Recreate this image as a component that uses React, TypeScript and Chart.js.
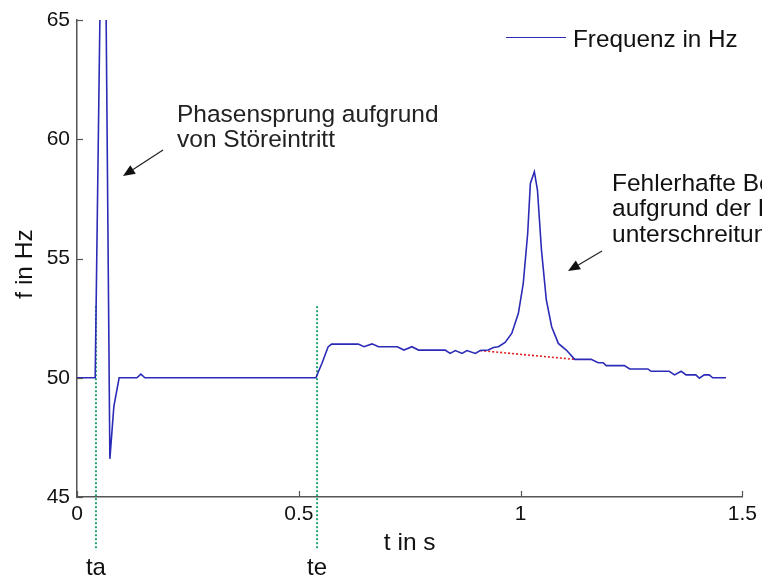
import React, { useEffect, useRef } from "react";
import { Chart, registerables } from "chart.js";

Chart.register(...registerables);

// ---- data ----
const timeS = [
  0, 0.041, 0.0602, 0.0741, 0.0831, 0.095, 0.135, 0.144, 0.153, 0.5385,
  0.552, 0.566, 0.574, 0.634, 0.647, 0.665, 0.68, 0.722, 0.737, 0.755,
  0.77, 0.83, 0.841, 0.853, 0.868, 0.879, 0.898, 0.909, 0.927, 0.939,
  0.95, 0.965, 0.98, 0.995, 1.006, 1.016, 1.022, 1.031, 1.038, 1.047,
  1.058, 1.07, 1.085, 1.103, 1.122, 1.159, 1.175, 1.186, 1.193, 1.234,
  1.246, 1.287, 1.294, 1.335, 1.347, 1.362, 1.373, 1.395, 1.403, 1.414,
  1.425, 1.433, 1.463,
];
const freqHz = [
  50, 50, 77.2, 46.6, 48.8, 50, 50, 50.15, 50, 50,
  50.6, 51.29, 51.41, 51.41, 51.3, 51.42, 51.3, 51.3, 51.16, 51.3,
  51.16, 51.16, 51.02, 51.14, 51.02, 51.14, 51.02, 51.14, 51.16, 51.27,
  51.3, 51.48, 51.86, 52.7, 53.96, 56.06, 58.15, 58.64, 57.87, 55.36,
  53.26, 52.14, 51.44, 51.16, 50.77, 50.77, 50.63, 50.63, 50.51, 50.51,
  50.37, 50.37, 50.27, 50.27, 50.12, 50.27, 50.12, 50.12, 49.98, 50.12,
  50.12, 50.0, 50.0,
];
const fitTimeS = [0.909, 1.122];
const fitFreqHz = [51.14, 50.77];
const markerTimeS = [0.0427, 0.5412];
const markerLabels = ["ta", "te"];
const markerFreqRange = [53.0, 42.8];

const xMin = 0, xMax = 1.5, xStep = 0.5;
const yMin = 45, yMax = 65, yStep = 5;

const seriesLabel = "Frequenz in Hz";
const xTitle = "t in s";
const yTitle = "f in Hz";
const note1 = ["Phasensprung aufgrund", "von Störeintritt"];
const note2 = ["Fehlerhafte Berechnung", "aufgrund der Pegel-", "unterschreitung"];

const FONT = '"Liberation Sans", Arial, Helvetica, sans-serif';
const BLUE = "#2b2bb8";
const AXIS = "#555555";

function arrow(ctx: CanvasRenderingContext2D, x1: number, y1: number, x2: number, y2: number) {
  const ang = Math.atan2(y2 - y1, x2 - x1);
  const hl = 12, hw = 5;
  const bx = x2 - hl * Math.cos(ang), by = y2 - hl * Math.sin(ang);
  ctx.beginPath();
  ctx.moveTo(x1, y1);
  ctx.lineTo(bx, by);
  ctx.strokeStyle = "#222";
  ctx.lineWidth = 1.2;
  ctx.stroke();
  ctx.beginPath();
  ctx.moveTo(x2, y2);
  ctx.lineTo(bx + hw * Math.sin(ang), by - hw * Math.cos(ang));
  ctx.lineTo(bx - hw * Math.sin(ang), by + hw * Math.cos(ang));
  ctx.closePath();
  ctx.fillStyle = "#111";
  ctx.fill();
}

const overlay = {
  id: "overlay",
  afterDraw(chart: any) {
    const { ctx, chartArea, scales } = chart;
    const x = scales.x, y = scales.y;
    ctx.save();
    // inward tick marks
    ctx.strokeStyle = AXIS;
    ctx.lineWidth = 1.2;
    x.ticks.forEach((t: any) => {
      const px = Math.round(x.getPixelForValue(t.value)) + 0.5;
      ctx.beginPath();
      ctx.moveTo(px, chartArea.bottom);
      ctx.lineTo(px, chartArea.bottom - 6);
      ctx.stroke();
    });
    y.ticks.forEach((t: any) => {
      const py = Math.round(y.getPixelForValue(t.value)) + 0.5;
      ctx.beginPath();
      ctx.moveTo(chartArea.left, py);
      ctx.lineTo(chartArea.left + 6, py);
      ctx.stroke();
    });

    ctx.fillStyle = "#111";
    ctx.textBaseline = "alphabetic";
    // marker labels
    ctx.font = `24px ${FONT}`;
    ctx.textAlign = "center";
    markerTimeS.forEach((t, i) => {
      ctx.fillText(markerLabels[i], x.getPixelForValue(t), 575);
    });
    // axis titles
    ctx.font = `24.5px ${FONT}`;
    ctx.fillText(xTitle, (chartArea.left + chartArea.right) / 2, 550);
    ctx.save();
    ctx.translate(32, 264);
    ctx.rotate(-Math.PI / 2);
    ctx.fillText(yTitle, 0, 0);
    ctx.restore();

    // legend
    const ds = chart.data.datasets[0];
    ctx.strokeStyle = ds.borderColor;
    ctx.lineWidth = 1.2;
    ctx.beginPath();
    ctx.moveTo(506, 37.5);
    ctx.lineTo(566, 37.5);
    ctx.stroke();
    ctx.textAlign = "left";
    ctx.font = `24.3px ${FONT}`;
    ctx.fillStyle = "#111";
    ctx.fillText(ds.label, 573, 46.5);

    // annotations
    ctx.font = `24.5px ${FONT}`;
    ctx.fillStyle = "#222";
    note1.forEach((s, i) => ctx.fillText(s, 177, 122 + i * 24.5));
    arrow(ctx, 163, 150, 123, 176);
    note2.forEach((s, i) => ctx.fillText(s, 612, 191 + i * 25.3));
    arrow(ctx, 602, 251, 568, 271);
    ctx.restore();
  },
};

export default function App() {
  const ref = useRef<HTMLCanvasElement | null>(null);
  useEffect(() => {
    document.body.style.margin = "0";
    const canvas = ref.current!;
    const freqPts = timeS.map((t, i) => ({ x: t, y: freqHz[i] }));
    const fitPts = fitTimeS.map((t, i) => ({ x: t, y: fitFreqHz[i] }));
    const markerSets = markerTimeS.map((t, i) => ({
      label: markerLabels[i],
      data: markerFreqRange.map((f) => ({ x: t, y: f })),
      borderColor: "#24a36b",
      borderWidth: 2,
      borderDash: [2, 2],
      pointRadius: 0,
      showLine: true,
      clip: false as any,
    }));
    const chart = new Chart(canvas, {
      type: "scatter",
      data: {
        datasets: [
          {
            label: seriesLabel,
            data: freqPts,
            borderColor: BLUE,
            borderWidth: 1.6,
            pointRadius: 0,
            showLine: true,
            tension: 0,
          },
          {
            label: "fit",
            data: fitPts,
            borderColor: "#e02020",
            borderWidth: 1.6,
            borderDash: [2, 2],
            pointRadius: 0,
            showLine: true,
          },
          ...markerSets,
        ],
      },
      options: {
        animation: false,
        responsive: false,
        devicePixelRatio: 1,
        layout: { padding: { left: 0, top: 20, right: 17, bottom: 0 } },
        plugins: { legend: { display: false }, tooltip: { enabled: false } },
        scales: {
          x: {
            type: "linear",
            min: xMin,
            max: xMax,
            grid: { display: false, drawTicks: false },
            border: { display: true, color: AXIS, width: 1.5 },
            ticks: {
              stepSize: xStep,
              padding: 5,
              color: "#111",
              font: { family: FONT, size: 21 },
              maxRotation: 0,
              callback: (v: any) => String(Number(v)),
            },
            afterFit: (s: any) => { s.height = 79; },
          },
          y: {
            type: "linear",
            min: yMin,
            max: yMax,
            grid: { display: false, drawTicks: false },
            border: { display: true, color: AXIS, width: 1.5 },
            ticks: {
              stepSize: yStep,
              padding: 7,
              color: "#111",
              font: { family: FONT, size: 21 },
              callback: (v: any) => String(Number(v)),
            },
            afterFit: (s: any) => { s.width = 77; },
          },
        },
      },
      plugins: [overlay],
    });
    return () => chart.destroy();
  }, []);
  return (
    <div style={{ width: 762, height: 576, background: "#fff" }}>
      <canvas ref={ref} width={762} height={576} style={{ width: 762, height: 576, display: "block" }} />
    </div>
  );
}
